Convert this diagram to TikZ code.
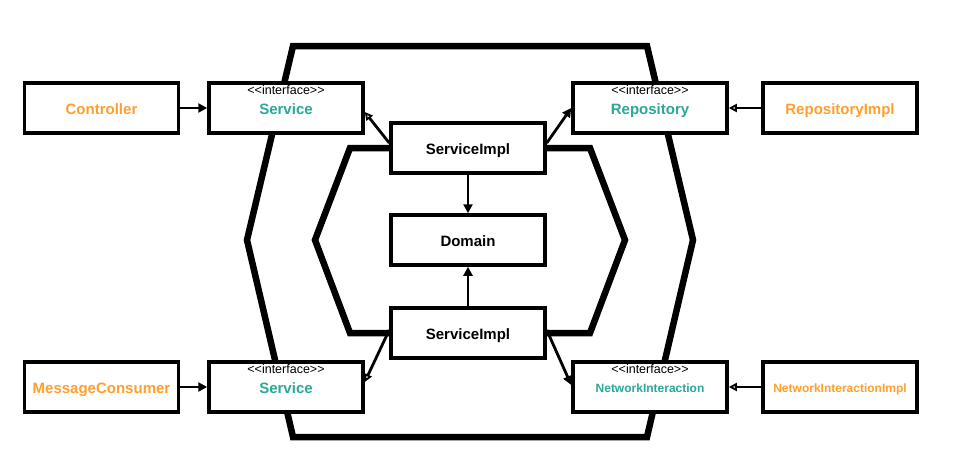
\documentclass[tikz,border=0pt]{standalone}
\usepackage{fontspec}
\setmainfont{Liberation Sans}
\usetikzlibrary{arrows.meta}
\definecolor{teal2}{HTML}{2BA898}
\definecolor{orng}{HTML}{FF9F2E}
\tikzset{
  box/.style={draw=black, line width=3.5pt, fill=white, minimum width=154pt, minimum height=50pt, inner sep=0pt, text height=13pt, text depth=0pt},
  hexa/.style={line width=6.5pt, line join=miter},
  conn/.style={line width=2.8pt},
  filled/.style={conn, -{Triangle[length=9pt,width=9pt]}},
  realize/.style={conn, -{Triangle[open,length=8pt,width=8pt,line width=1.8pt]}},
  nm/.style={font=\fontsize{15}{18}\selectfont\bfseries},
  smallnm/.style={font=\fontsize{12}{14}\selectfont\bfseries, text height=10.5pt, text depth=0pt},
  iface/.style={font=\fontsize{12.5}{14}\selectfont, inner sep=0pt}
}
\begin{document}
\begin{tikzpicture}[x=1pt,y=-1pt]
\useasboundingbox (0,0) rectangle (977,474);
% hexagons
\draw[hexa] (293,46) -- (647,46) -- (693,240) -- (647,437) -- (293,437) -- (247,240) -- cycle;
\draw[hexa] (350,148) -- (590,148) -- (625,240) -- (590,333) -- (350,333) -- (315,240) -- cycle;
% boxes
\node[box, nm, text=orng] (ctrl) at (101.5,108) {Controller};
\node[box, nm, text=teal2] (svc1) at (286,108) {Service};
\node[box, nm, text=teal2] (repo) at (650,108) {Repository};
\node[box, nm, text=orng] (repoi) at (840,108) {RepositoryImpl};
\node[box, nm] (si1) at (468,148) {ServiceImpl};
\node[box, nm] (dom) at (468,240) {Domain};
\node[box, nm] (si2) at (468,333) {ServiceImpl};
\node[box, nm, text=orng] (mc) at (101.5,387) {MessageConsumer};
\node[box, nm, text=teal2] (svc2) at (286,387) {Service};
\node[box, smallnm, text=teal2] (net) at (650,387) {NetworkInteraction};
\node[box, smallnm, text=orng] (neti) at (840,387) {NetworkInteractionImpl};
% interface labels
\node[iface] (if1) at (286,90) {<{}<interface>{}>};
\node[iface] (if2) at (650,90) {<{}<interface>{}>};
\node[iface] (if3) at (286,369) {<{}<interface>{}>};
\node[iface] (if4) at (650,369) {<{}<interface>{}>};
% connectors
\draw[filled] (ctrl.east) -- (svc1.west);
\draw[filled] (mc.east) -- (svc2.west);
\draw[realize] (repoi.west) -- (repo.east);
\draw[realize] (neti.west) -- (net.east);
\draw[realize] ([yshift=5pt]si1.west) -- ([yshift=-4pt]svc1.east);
\draw[filled] ([yshift=5pt]si1.east) -- (repo.west);
\draw[filled] (si1.south) -- (dom.north);
\draw[filled] (si2.north) -- (dom.south);
\draw[realize] ([yshift=3pt]si2.west) -- ([yshift=5pt]svc2.east);
\draw[filled] ([yshift=3pt]si2.east) -- ([yshift=2pt]net.west);
\end{tikzpicture}
\end{document}
